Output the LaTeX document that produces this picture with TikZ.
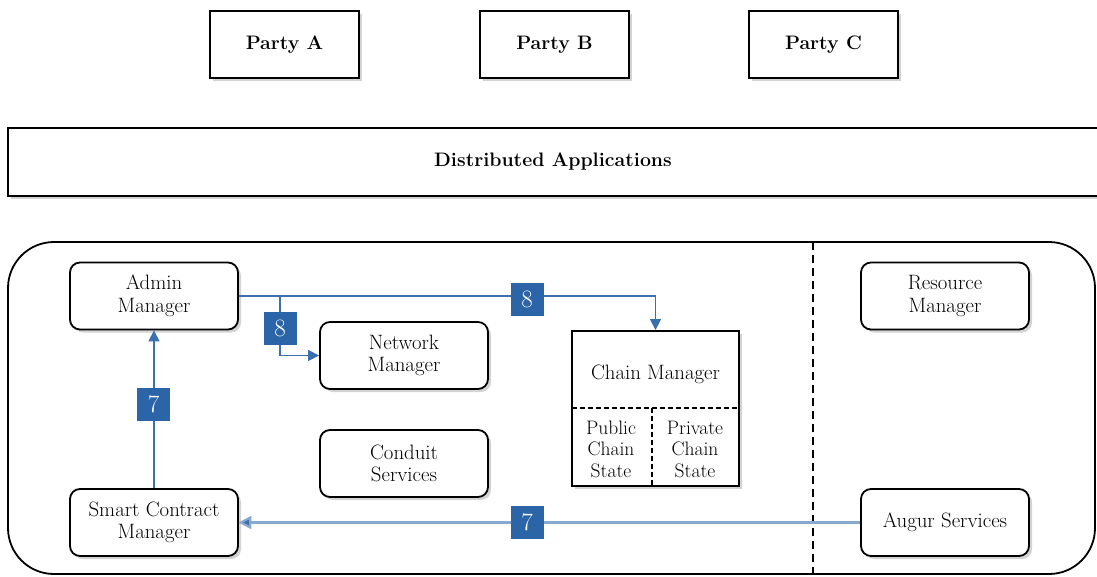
\documentclass[tikz,border=0pt]{standalone}
\usepackage{fontspec}
\usetikzlibrary{arrows.meta,shadows}
\definecolor{lblue}{RGB}{43,101,168}
\definecolor{ablue}{RGB}{58,111,176}
\definecolor{lightline}{RGB}{138,168,204}
\newcommand{\mysize}{\fontsize{20.8}{22.5}\selectfont}
\newcommand{\boldsize}{\fontsize{19.5}{22.5}\selectfont\bfseries}
\tikzset{
  shd/.style={drop shadow={shadow xshift=3pt, shadow yshift=-3pt, opacity=0.35, fill=gray}},
  box/.style={draw, line width=1.8pt, rounded corners=10pt, minimum width=168pt, minimum height=67pt,
    align=center, fill=white, shd, inner sep=0pt},
  party/.style={draw, line width=1.7pt, minimum width=149pt, minimum height=67pt, inner sep=0pt,
    font=\boldsize, fill=white, shd},
  txt/.style={align=center, inner sep=0pt},
  lbl/.style={fill=lblue, text=white, minimum size=33pt, inner sep=0pt, font=\fontsize{25}{28}\selectfont},
  arr/.style={draw=ablue, line width=1.3pt, -{Triangle[length=11pt,width=11pt]}},
  arrlight/.style={draw=lightline, line width=2.2pt, -{Triangle[length=13pt,width=13pt,fill=ablue]}, shorten >=-0.5pt},
}
\begin{document}
\begin{tikzpicture}[x=1pt, y=-1pt, font=\mysize]
\useasboundingbox (0,0) rectangle (1097,576);

% parties
\node[party] (pa) at (284.5,44.5) {Party A};
\node[party] (pb) at (554.5,44.5) {Party B};
\node[party] (pc) at (823.5,44.5) {Party C};

% distributed applications band
\draw[line width=1.7pt, shd, fill=white] (1104,128) -- (8,128) -- (8,196) -- (1104,196);
\node[txt, font=\boldsize] (da) at (553,162) {Distributed Applications};

% outer container
\draw[line width=1.8pt, rounded corners=46pt] (8,242) rectangle (1095,574);
\coordinate (dtop) at (813,242);
\coordinate (dbot) at (813,576);
\draw[line width=1.5pt, dash pattern=on 8pt off 5pt] (dtop) -- (dbot);

% components
\node[box] (admin) at (154,296) {Admin\\Manager};
\node[box] (smart) at (154,522.5) {Smart Contract\\Manager};
\node[box] (net) at (404,355.5) {Network\\Manager};
\node[box] (cond) at (404,463.5) {Conduit\\Services};
\node[box] (res) at (945,296) {Resource\\Manager};
\node[box] (aug) at (945,522.5) {Augur Services};

% chain manager
\node[draw, line width=1.8pt, minimum width=167pt, minimum height=155pt, fill=white, shd] (chain) at (655.5,408.5) {};
\coordinate (cl) at (572,408);
\coordinate (cr) at (739,408);
\coordinate (ct) at (652,408);
\coordinate (cb) at (652,486);
\draw[line width=1.5pt, dash pattern=on 5pt off 3pt] (cl) -- (cr);
\draw[line width=1.5pt, dash pattern=on 5pt off 3pt] (ct) -- (cb);
\node[txt] (cmt) at (655.5,374) {Chain Manager};
\node[txt, font=\fontsize{19.5}{21.5}\selectfont] (pub) at (611,449) {Public\\Chain\\State};
\node[txt, font=\fontsize{19.5}{21.5}\selectfont] (priv) at (695,449) {Private\\Chain\\State};

% connectors
\draw[arr] (admin.east) -| (chain.north);
\coordinate (br) at (280,296);
\draw[arr] (br) |- (net.west);
\draw[arr] (smart.north) -- (admin.south);
\draw[arrlight] (aug.west) -- (smart.east);

% labels
\node[lbl] (l8a) at (527,299) {8};
\node[lbl] (l8b) at (280,328) {8};
\node[lbl] (l7a) at (153.5,404) {7};
\node[lbl] (l7b) at (527,522.5) {7};
\end{tikzpicture}
\end{document}
